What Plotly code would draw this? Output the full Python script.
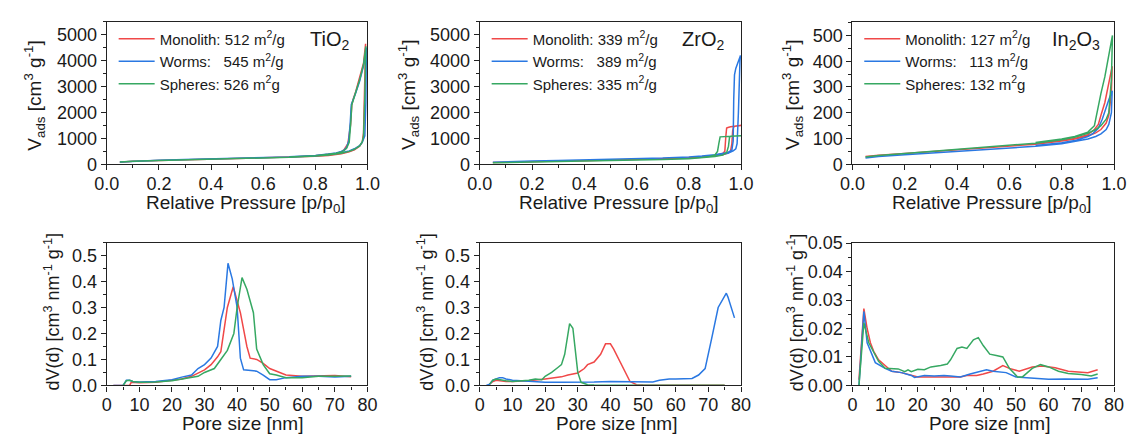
import plotly.graph_objects as go

W, H = 1141, 443
RED, BLUE, GREEN = "#f04848", "#2a78e2", "#36a862"
FONT = "Liberation Sans, Arial, sans-serif"
TXT = "#1a1a1a"

series_names = ["Monolith", "Worms", "Spheres"]

# ---------------- Isotherms (adsorption branch, desorption branch from high to low p) ----
# TiO2
ti_mono_ads_p = [0.05, 0.1, 0.2, 0.3, 0.4, 0.5, 0.6, 0.7, 0.8, 0.85, 0.9, 0.93, 0.95, 0.97, 0.98, 0.985, 0.99, 0.993]
ti_mono_ads_v = [85, 115, 145, 170, 190, 210, 235, 265, 310, 345, 410, 480, 560, 700, 850, 1200, 3000, 4650]
ti_mono_des_p = [0.993, 0.985, 0.97, 0.955, 0.945, 0.94, 0.935, 0.925, 0.91, 0.9, 0.88, 0.85, 0.8, 0.7]
ti_mono_des_v = [4650, 3900, 3300, 2800, 2500, 2300, 1500, 800, 560, 480, 420, 380, 330, 275]

ti_worm_ads_p = [0.05, 0.1, 0.2, 0.3, 0.4, 0.5, 0.6, 0.7, 0.8, 0.85, 0.9, 0.93, 0.95, 0.97, 0.98, 0.99, 0.994, 0.996]
ti_worm_ads_v = [95, 125, 160, 185, 205, 225, 250, 285, 335, 375, 450, 520, 600, 720, 850, 1100, 2400, 4500]
ti_worm_des_p = [0.996, 0.985, 0.97, 0.955, 0.945, 0.938, 0.934, 0.928, 0.92, 0.91, 0.9, 0.88, 0.85, 0.8, 0.7]
ti_worm_des_v = [4500, 3800, 3200, 2750, 2450, 2300, 1600, 900, 650, 550, 500, 440, 395, 345, 290]

ti_sph_ads_p = [0.05, 0.1, 0.2, 0.3, 0.4, 0.5, 0.6, 0.7, 0.8, 0.85, 0.9, 0.93, 0.95, 0.97, 0.98, 0.985, 0.99, 0.994]
ti_sph_ads_v = [90, 120, 150, 175, 195, 215, 240, 272, 320, 360, 430, 500, 580, 710, 860, 1100, 2600, 4550]
ti_sph_des_p = [0.994, 0.985, 0.97, 0.955, 0.945, 0.94, 0.936, 0.93, 0.92, 0.91, 0.9, 0.88, 0.85, 0.8, 0.7]
ti_sph_des_v = [4550, 3850, 3250, 2780, 2480, 2300, 1600, 850, 620, 530, 480, 430, 385, 335, 280]

# ZrO2
zr_mono_ads_p = [0.05, 0.1, 0.2, 0.3, 0.4, 0.5, 0.6, 0.7, 0.8, 0.85, 0.9, 0.93, 0.95, 0.96, 0.965, 0.968, 0.972, 0.98, 1.0]
zr_mono_ads_v = [70, 85, 105, 125, 140, 160, 180, 205, 245, 275, 320, 370, 430, 520, 800, 1300, 1450, 1480, 1500]
zr_mono_des_p = [1.0, 0.98, 0.96, 0.95, 0.945, 0.942, 0.938, 0.93, 0.9, 0.85, 0.8, 0.7]
zr_mono_des_v = [1500, 1480, 1450, 1420, 1400, 1100, 500, 420, 340, 285, 250, 210]

zr_worm_ads_p = [0.05, 0.1, 0.2, 0.3, 0.4, 0.5, 0.6, 0.7, 0.8, 0.85, 0.9, 0.95, 0.97, 0.98, 0.985, 0.99, 0.993, 0.996, 0.998]
zr_worm_ads_v = [80, 100, 130, 150, 170, 190, 210, 240, 280, 310, 350, 430, 520, 600, 800, 2000, 3500, 4000, 4200]
zr_worm_des_p = [0.998, 0.99, 0.98, 0.975, 0.972, 0.97, 0.965, 0.95, 0.9, 0.85, 0.8, 0.7]
zr_worm_des_v = [4200, 4000, 3700, 3450, 2500, 900, 550, 460, 370, 320, 285, 245]

zr_sph_ads_p = [0.05, 0.1, 0.2, 0.3, 0.4, 0.5, 0.6, 0.7, 0.8, 0.85, 0.9, 0.93, 0.945, 0.952, 0.956, 0.96, 0.98, 1.0]
zr_sph_ads_v = [60, 75, 95, 110, 125, 140, 160, 185, 220, 250, 300, 360, 450, 700, 1050, 1080, 1090, 1100]
zr_sph_des_p = [1.0, 0.95, 0.92, 0.915, 0.91, 0.9, 0.88, 0.85, 0.8, 0.7]
zr_sph_des_v = [1100, 1080, 1060, 800, 500, 360, 300, 260, 225, 190]

# In2O3
in_mono_ads_p = [0.05, 0.1, 0.2, 0.3, 0.4, 0.5, 0.6, 0.7, 0.8, 0.85, 0.9, 0.93, 0.95, 0.97, 0.98, 0.99, 0.993]
in_mono_ads_v = [30, 35, 42, 49, 55, 62, 69, 78, 90, 98, 110, 122, 135, 160, 190, 280, 380]
in_mono_des_p = [0.993, 0.98, 0.965, 0.95, 0.94, 0.925, 0.9, 0.85, 0.8, 0.7]
in_mono_des_v = [380, 320, 240, 190, 155, 135, 115, 100, 92, 80]

in_worm_ads_p = [0.05, 0.1, 0.2, 0.3, 0.4, 0.5, 0.6, 0.7, 0.8, 0.85, 0.9, 0.93, 0.95, 0.97, 0.98, 0.99, 0.993]
in_worm_ads_v = [25, 30, 37, 44, 50, 56, 63, 70, 80, 88, 98, 108, 118, 135, 155, 200, 285]
in_worm_des_p = [0.993, 0.98, 0.97, 0.955, 0.94, 0.92, 0.9, 0.85, 0.8, 0.7]
in_worm_des_v = [285, 250, 220, 175, 140, 120, 108, 92, 84, 73]

in_sph_ads_p = [0.05, 0.1, 0.2, 0.3, 0.4, 0.5, 0.6, 0.7, 0.8, 0.85, 0.9, 0.93, 0.95, 0.97, 0.98, 0.99, 0.994]
in_sph_ads_v = [28, 34, 42, 50, 57, 64, 72, 82, 95, 105, 120, 135, 150, 175, 200, 330, 500]
in_sph_des_p = [0.994, 0.98, 0.965, 0.95, 0.94, 0.925, 0.9, 0.85, 0.8, 0.7]
in_sph_des_v = [500, 420, 340, 275, 220, 150, 125, 108, 98, 85]

# ---------------- Pore size distributions ----------------
ti_mono_d = [2, 5, 7, 7.5, 10, 15, 20, 23, 26, 30, 32, 34, 35, 36, 37, 38.8, 40, 41, 43, 44, 46, 48, 50, 52, 55, 60, 65, 70, 75]
ti_mono_dv = [0, 0, 0, 0.012, 0.01, 0.012, 0.02, 0.025, 0.035, 0.06, 0.08, 0.11, 0.13, 0.22, 0.3, 0.38, 0.33, 0.28, 0.15, 0.105, 0.1, 0.085, 0.065, 0.055, 0.04, 0.035, 0.037, 0.038, 0.033]
ti_worm_d = [2, 5, 6, 7, 8, 10, 15, 20, 23, 26, 28, 30, 32, 34, 35, 36, 37.2, 38.5, 40, 41, 42, 44, 46, 48, 50, 52, 55, 60, 65, 70, 75]
ti_worm_dv = [0, 0, 0.02, 0.02, 0.015, 0.013, 0.015, 0.022, 0.032, 0.04, 0.065, 0.08, 0.105, 0.15, 0.25, 0.3, 0.47, 0.41, 0.3, 0.105, 0.06, 0.058, 0.055, 0.04, 0.022, 0.022, 0.03, 0.035, 0.035, 0.032, 0.035]
ti_sph_d = [5, 6, 7, 8, 10, 15, 20, 25, 28, 30, 33, 35, 37, 39, 40, 41.5, 43, 45, 46, 48, 50, 52, 55, 60, 65, 70, 75]
ti_sph_dv = [0, 0.018, 0.02, 0.015, 0.012, 0.013, 0.018, 0.028, 0.035, 0.05, 0.065, 0.1, 0.135, 0.2, 0.3, 0.415, 0.37, 0.28, 0.14, 0.08, 0.045, 0.04, 0.03, 0.03, 0.035, 0.035, 0.036]

zr_mono_d = [3, 4, 5, 8, 10, 15, 20, 25, 27, 30, 32, 33, 35, 37, 38.5, 40, 41, 43, 45, 46, 48, 50, 60, 75]
zr_mono_dv = [0.005, 0.015, 0.02, 0.015, 0.015, 0.018, 0.025, 0.033, 0.04, 0.048, 0.065, 0.08, 0.09, 0.12, 0.16, 0.16, 0.14, 0.09, 0.04, 0.015, 0.003, 0.002, 0.001, 0.001]
zr_worm_d = [2, 3, 4, 5, 6, 7, 8, 10, 12, 15, 20, 25, 30, 35, 40, 45, 50, 53, 55, 58, 60, 65, 67, 69, 71, 73, 75.5, 76, 78]
zr_worm_dv = [0, 0.005, 0.02, 0.025, 0.03, 0.03, 0.025, 0.02, 0.018, 0.015, 0.012, 0.012, 0.012, 0.013, 0.015, 0.015, 0.013, 0.013, 0.02, 0.025, 0.025, 0.027, 0.04, 0.065, 0.18, 0.3, 0.355, 0.34, 0.26]
zr_sph_d = [3, 4, 5, 6, 8, 10, 15, 17, 19, 20, 22, 24, 25, 26, 27.5, 28.5, 29.5, 30, 31, 33, 35, 50, 75]
zr_sph_dv = [0.005, 0.02, 0.025, 0.022, 0.018, 0.015, 0.02, 0.025, 0.022, 0.035, 0.05, 0.07, 0.08, 0.12, 0.238, 0.22, 0.12, 0.05, 0.012, 0.003, 0.002, 0.001, 0.001]

in_mono_d = [2, 3.5, 4.5, 5.5, 6.5, 8, 10, 12, 15, 18, 20, 22, 25, 28, 30, 33, 35, 38, 40, 43, 46, 48, 51, 55, 58, 62, 66, 70, 72, 75]
in_mono_dv = [0.002, 0.027, 0.02, 0.015, 0.012, 0.009, 0.007, 0.005, 0.0045, 0.0035, 0.003, 0.003, 0.003, 0.0028, 0.003, 0.003, 0.0035, 0.0035, 0.004, 0.005, 0.007, 0.006, 0.005, 0.0065, 0.0068, 0.0062, 0.005, 0.0048, 0.0045, 0.0055]
in_worm_d = [2, 3.5, 4.5, 5.5, 7, 10, 12, 15, 18, 19, 22, 25, 28, 30, 33, 36, 38, 41, 43, 47, 50, 55, 60, 65, 70, 72, 75]
in_worm_dv = [0, 0.026, 0.015, 0.012, 0.008, 0.006, 0.005, 0.0045, 0.0035, 0.0028, 0.0035, 0.0033, 0.0035, 0.0033, 0.003, 0.004, 0.0045, 0.0055, 0.005, 0.0045, 0.003, 0.0025, 0.0022, 0.0023, 0.0023, 0.0022, 0.0027]
in_sph_d = [2, 3.5, 5, 6, 8, 10, 12, 14, 16, 17, 18, 20, 22, 24, 27, 29, 30, 32, 33.5, 35, 37, 38.5, 40, 42, 44, 46, 48, 50.5, 52, 55, 57.5, 60, 63, 66, 70, 73, 75]
in_sph_dv = [0, 0.022, 0.015, 0.013, 0.0085, 0.006, 0.006, 0.0058, 0.0048, 0.0055, 0.0048, 0.0057, 0.0055, 0.0065, 0.007, 0.0075, 0.009, 0.013, 0.0135, 0.013, 0.016, 0.0168, 0.014, 0.011, 0.0105, 0.01, 0.006, 0.003, 0.003, 0.006, 0.0073, 0.0065, 0.005, 0.0042, 0.0038, 0.0033, 0.004]

# ---------------- labels ----------------
compound_labels = ["TiO<sub>2</sub>", "ZrO<sub>2</sub>", "In<sub>2</sub>O<sub>3</sub>"]
legend_labels = [
    ["Monolith: 512 m<sup>2</sup>/g", "Worms:   545 m<sup>2</sup>/g", "Spheres: 526 m<sup>2</sup>g"],
    ["Monolith: 339 m<sup>2</sup>/g", "Worms:   389 m<sup>2</sup>/g", "Spheres: 335 m<sup>2</sup>/g"],
    ["Monolith: 127 m<sup>2</sup>/g", "Worms:   113 m<sup>2</sup>/g", "Spheres: 132 m<sup>2</sup>g"],
]
iso_ytitle = "V<sub>ads</sub> [cm<sup>3</sup> g<sup>-1</sup>]"
iso_xtitle = "Relative Pressure [p/p<sub>0</sub>]"
psd_ytitle = "dV(d) [cm<sup>3</sup> nm<sup>-1</sup> g<sup>-1</sup>]"
psd_xtitle = "Pore size [nm]"

iso_data = [
    [(ti_mono_ads_p, ti_mono_ads_v, ti_mono_des_p, ti_mono_des_v),
     (ti_worm_ads_p, ti_worm_ads_v, ti_worm_des_p, ti_worm_des_v),
     (ti_sph_ads_p, ti_sph_ads_v, ti_sph_des_p, ti_sph_des_v)],
    [(zr_mono_ads_p, zr_mono_ads_v, zr_mono_des_p, zr_mono_des_v),
     (zr_worm_ads_p, zr_worm_ads_v, zr_worm_des_p, zr_worm_des_v),
     (zr_sph_ads_p, zr_sph_ads_v, zr_sph_des_p, zr_sph_des_v)],
    [(in_mono_ads_p, in_mono_ads_v, in_mono_des_p, in_mono_des_v),
     (in_worm_ads_p, in_worm_ads_v, in_worm_des_p, in_worm_des_v),
     (in_sph_ads_p, in_sph_ads_v, in_sph_des_p, in_sph_des_v)],
]
psd_data = [
    [(ti_mono_d, ti_mono_dv), (ti_worm_d, ti_worm_dv), (ti_sph_d, ti_sph_dv)],
    [(zr_mono_d, zr_mono_dv), (zr_worm_d, zr_worm_dv), (zr_sph_d, zr_sph_dv)],
    [(in_mono_d, in_mono_dv), (in_worm_d, in_worm_dv), (in_sph_d, in_sph_dv)],
]
colors = [RED, BLUE, GREEN]

# ---------------- layout geometry (pixels) ----------------
col_px = [(96, 362.7), (477.7, 745), (859, 1126.7)]
row_px = [(13.3, 162.3), (244, 393.3)]

def xdom(c):
    return [col_px[c][0] / W, col_px[c][1] / W]

def ydom(r):
    return [1 - row_px[r][1] / H, 1 - row_px[r][0] / H]

fig = go.Figure()
layout = dict(width=W, height=H, margin=dict(l=0, r=0, t=0, b=0),
              plot_bgcolor="white", paper_bgcolor="white",
              font=dict(family=FONT, color=TXT), annotations=[])

iso_yr = [[0, 5500], [0, 5500], [0, 553]]
iso_dt = [1000, 1000, 100]
psd_yr = [[0, 0.55], [0, 0.55], [0, 0.0502]]
psd_dt = [0.1, 0.1, 0.01]
psd_fmt = [".1f", ".1f", ".2f"]

def axis_common():
    return dict(showline=True, linecolor="#222", linewidth=1.3, mirror=True,
                ticks="outside", ticklen=5, tickwidth=1.2, tickcolor="#222",
                showgrid=False, zeroline=False,
                tickfont=dict(size=18, family=FONT, color=TXT))

legend_keys = ["legend", "legend2", "legend3"]

for c in range(3):
    ia = 2 * c + 1
    ib = 2 * c + 2
    xs = "x" if ia == 1 else f"x{ia}"
    ys = "y" if ia == 1 else f"y{ia}"
    for s in range(3):
        ap, av, dp, dv = iso_data[c][s]
        fig.add_trace(go.Scatter(
            x=list(ap) + list(dp), y=list(av) + list(dv), mode="lines",
            line=dict(color=colors[s], width=1.5), name=legend_labels[c][s],
            xaxis=xs, yaxis=ys, legend=legend_keys[c]))
    ax = axis_common()
    ax.update(domain=xdom(c), range=[0, 1], dtick=0.2, tickformat=".1f",
              anchor=ys, ticklabelstandoff=-2,
              minor=dict(ticks="outside", ticklen=3, dtick=0.1, tickcolor="#222"))
    ay = axis_common()
    ay.update(domain=ydom(0), range=iso_yr[c], dtick=iso_dt[c],
              anchor=xs, minor=dict(ticks="outside", ticklen=3, dtick=iso_dt[c] / 2, tickcolor="#222"))
    layout["xaxis" if ia == 1 else f"xaxis{ia}"] = ax
    layout["yaxis" if ia == 1 else f"yaxis{ia}"] = ay

    xs2, ys2 = f"x{ib}", f"y{ib}"
    for s in range(3):
        d, v = psd_data[c][s]
        fig.add_trace(go.Scatter(
            x=d, y=v, mode="lines", line=dict(color=colors[s], width=1.5),
            name=series_names[s], showlegend=False, xaxis=xs2, yaxis=ys2))
    bx = axis_common()
    bx.update(domain=xdom(c), range=[0, 80], dtick=10, anchor=ys2, ticklabelstandoff=-2,
              minor=dict(ticks="outside", ticklen=3, dtick=5, tickcolor="#222"))
    by = axis_common()
    by.update(domain=ydom(1), range=psd_yr[c], dtick=psd_dt[c], tickformat=psd_fmt[c],
              anchor=xs2, minor=dict(ticks="outside", ticklen=3, dtick=psd_dt[c] / 2, tickcolor="#222"))
    layout[f"xaxis{ib}"] = bx
    layout[f"yaxis{ib}"] = by

    layout[legend_keys[c]] = dict(
        x=(col_px[c][0] + 7) / W, y=1 - 14 / H, xanchor="left", yanchor="top",
        bgcolor="rgba(0,0,0,0)", font=dict(size=15, family=FONT, color=TXT),
        tracegroupgap=0, itemwidth=36)

    layout["annotations"].append(dict(
        text=compound_labels[c], x=(col_px[c][1] - 39) / W, y=1 - 33 / H,
        xref="paper", yref="paper", xanchor="center", yanchor="middle",
        showarrow=False, font=dict(size=20, family=FONT, color=TXT)))

iso_ytitle_x = [22, 404, 797]
psd_ytitle_x = [40, 422, 801]
for c in range(3):
    cx = (col_px[c][0] + col_px[c][1]) / 2
    layout["annotations"].append(dict(
        text=iso_xtitle, x=(cx + 9) / W, y=1 - 204 / H, xref="paper", yref="paper",
        xanchor="center", yanchor="middle", showarrow=False, borderpad=0,
        font=dict(size=19, family=FONT, color=TXT)))
    layout["annotations"].append(dict(
        text=psd_xtitle, x=(cx + 6) / W, y=1 - 433 / H, xref="paper", yref="paper",
        xanchor="center", yanchor="middle", showarrow=False, borderpad=0,
        font=dict(size=19, family=FONT, color=TXT)))
    layout["annotations"].append(dict(
        text=iso_ytitle, x=iso_ytitle_x[c] / W, y=1 - 90 / H, xref="paper", yref="paper",
        xanchor="center", yanchor="middle", showarrow=False, textangle=-90, borderpad=0,
        font=dict(size=19, family=FONT, color=TXT)))
    layout["annotations"].append(dict(
        text=psd_ytitle, x=psd_ytitle_x[c] / W, y=1 - 317 / H, xref="paper", yref="paper",
        xanchor="center", yanchor="middle", showarrow=False, textangle=-90, borderpad=0,
        font=dict(size=18, family=FONT, color=TXT)))

fig.update_layout(**layout)
fig.write_html("out.html", config={"displayModeBar": False},
               post_script="document.body.style.margin='0px';")
